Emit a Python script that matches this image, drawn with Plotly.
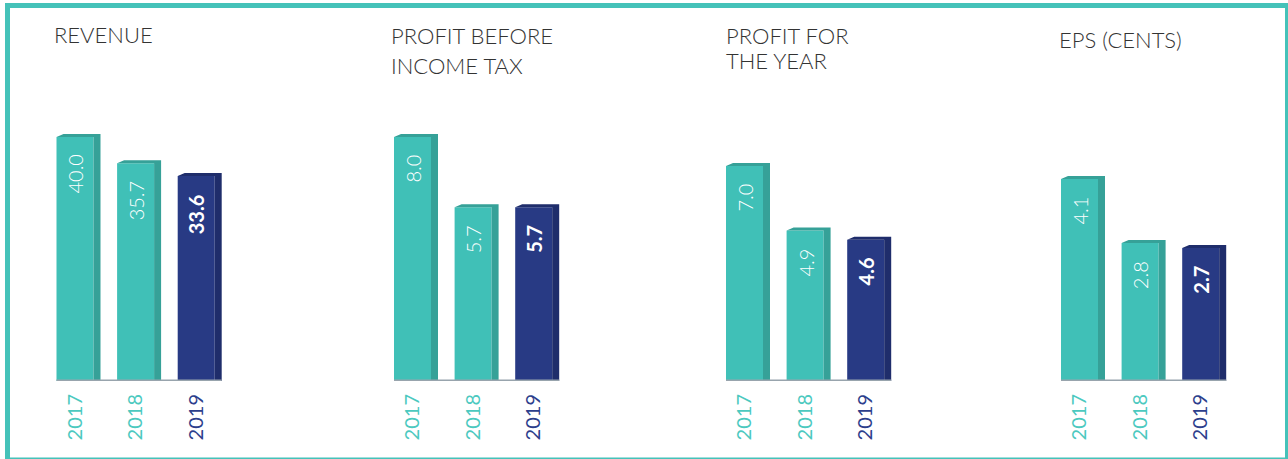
import plotly.graph_objects as go

# ---------------- data ----------------
years = ["2017", "2018", "2019"]
titles = [["REVENUE"], ["PROFIT BEFORE", "INCOME TAX"], ["PROFIT FOR", "THE YEAR"], ["EPS (CENTS)"]]
revenue = [40.0, 35.7, 33.6]
profit_before_tax = [8.0, 5.7, 5.7]
profit_for_year = [7.0, 4.9, 4.6]
eps_cents = [4.1, 2.8, 2.7]
series = [revenue, profit_before_tax, profit_for_year, eps_cents]

# ---------------- style ----------------
W, H = 1288, 459
TEAL = "#40C0B7"
TEAL_SIDE = "#36A198"
NAVY = "#283A84"
NAVY_SIDE = "#1F2D6B"
YEAR_TEAL = "#4CC9BF"
YEAR_NAVY = "#2C3E8C"
BASE_GREY = "#98A4AD"
FRAME = "#45C2B9"
FONT = "Lato"

S = 60.6                      # px per category unit
first_centers = [75, 412.5, 744.5, 1079.5]
BAR_W = 37 / S
DX = 7 / S
base_px = 381
top_px = 100
plot_h = base_px - top_px
y_dom = [(H - base_px) / H, (H - top_px) / H]
y_tops = [46.07, 9.213, 9.149, 5.703]

title_pos = [  # (x px, [middle px per line])
    (52, [34.5]),
    (388.5, [35.0, 65.0]),
    (724, [35.5, 60.5]),
    (1057, [39]),
]

fig = go.Figure()
layout = dict(
    width=W, height=H, margin=dict(l=0, r=0, t=0, b=0),
    paper_bgcolor="white", plot_bgcolor="rgba(0,0,0,0)",
    showlegend=False, hovermode=False,
    font=dict(family=FONT, color="#333333"),
)
annotations = []
shapes = []

for p, vals in enumerate(series):
    xa = "x" if p == 0 else f"x{p+1}"
    ya = "y" if p == 0 else f"y{p+1}"
    xkey = "xaxis" if p == 0 else f"xaxis{p+1}"
    ykey = "yaxis" if p == 0 else f"yaxis{p+1}"
    c0 = first_centers[p]
    dy = 3 * y_tops[p] / plot_h
    xs = list(range(len(years)))
    front_cols = [TEAL, TEAL, NAVY]
    side_cols = [TEAL_SIDE, TEAL_SIDE, NAVY_SIDE]

    fig.add_trace(go.Bar(x=xs, y=vals, width=BAR_W, marker=dict(color=front_cols, line=dict(width=0)),
                         xaxis=xa, yaxis=ya))
    for i, v in enumerate(vals):
        xl, xr = i - BAR_W / 2, i + BAR_W / 2
        px_ = [xl, xl + DX, xr + DX, xr + DX, xr, xr, xl]
        py_ = [v, v + dy, v + dy, 0, 0, v, v]
        fig.add_trace(go.Scatter(x=px_, y=py_, mode="lines", fill="toself", fillcolor=side_cols[i],
                                 line=dict(width=0, color=side_cols[i]), xaxis=xa, yaxis=ya))
        bold = i == len(vals) - 1
        txt = f"<b>{v:.1f}</b>" if bold else f"{v:.1f}"
        annotations.append(dict(x=i, y=v, xref=xa, yref=ya, text=txt, textangle=-90, showarrow=False,
                                xanchor="center", yanchor="top", yshift=-16,
                                font=dict(family=FONT, size=20, color="white",
                                          weight=700 if bold else 300)))
    # baseline
    fig.add_trace(go.Scatter(x=[-BAR_W / 2, len(vals) - 1 + BAR_W / 2 + DX], y=[0, 0], mode="lines",
                             line=dict(color=BASE_GREY, width=3), xaxis=xa, yaxis=ya))

    tick_cols = [YEAR_TEAL, YEAR_TEAL, YEAR_NAVY]
    layout[xkey] = dict(
        domain=[(c0 - 0.6 * S) / W, (c0 + 2.6 * S) / W], range=[-0.6, 2.6], anchor=ya,
        showgrid=False, zeroline=False, showline=False, ticks="",
        tickvals=xs, ticktext=[f'<span style="color:{c}">{y}</span>' for c, y in zip(tick_cols, years)],
        tickangle=-90, tickfont=dict(family=FONT, size=20, weight=400), ticklabelstandoff=8,
        fixedrange=True,
    )
    layout[ykey] = dict(domain=y_dom, range=[0, y_tops[p]], anchor=xa, visible=False, fixedrange=True)

    tx, ty_list = title_pos[p]
    for line, ty in zip(titles[p], ty_list):
        annotations.append(dict(x=tx / W, y=(H - ty) / H, xref="paper", yref="paper", text=line,
                                showarrow=False, xanchor="left", yanchor="middle",
                                font=dict(family=FONT, size=22, color="#333333", weight=300)))

# frame
shapes.append(dict(type="rect", xref="paper", yref="paper",
                   x0=7.5 / W, x1=1287.5 / W, y0=(H - 460) / H, y1=(H - 5.5) / H,
                   line=dict(color=FRAME, width=5), fillcolor="rgba(0,0,0,0)", layer="above"))

layout["annotations"] = annotations
layout["shapes"] = shapes
fig.update_layout(**layout)

fig.write_html("out.html", config={"displayModeBar": False},
               post_script="document.body.style.margin='0';")
